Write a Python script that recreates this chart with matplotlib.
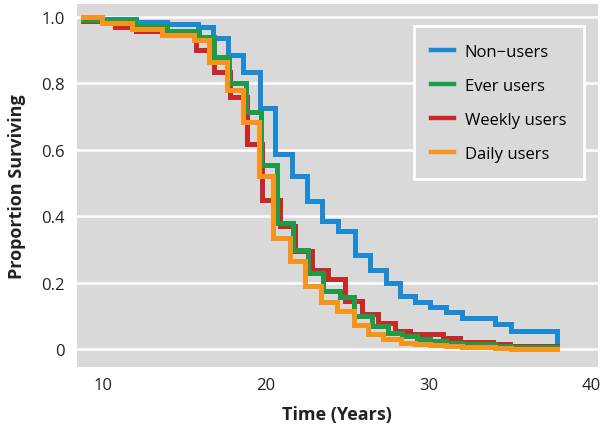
import matplotlib
matplotlib.use("Agg")
import matplotlib.pyplot as plt

plt.rcParams["font.family"] = ["Open Sans", "DejaVu Sans"]

# survival curves (time in years, proportion surviving after each step)
non_t = [8.74, 12.0, 13.9, 15.8, 16.74, 17.66, 18.6, 19.63, 20.55, 21.6, 22.52, 23.45,
         24.43, 25.48, 26.4, 27.38, 28.25, 29.17, 30.1, 31.1, 32.1, 34.1, 35.07, 37.9]
non_p = [0.995, 0.986, 0.979, 0.97, 0.937, 0.886, 0.835, 0.727, 0.588, 0.52, 0.445, 0.385,
         0.355, 0.285, 0.237, 0.2, 0.159, 0.141, 0.126, 0.111, 0.093, 0.075, 0.054, 0.0]

ever_t = [8.74, 12.0, 13.9, 15.9, 16.8, 17.75, 18.75, 19.7, 20.7, 21.66, 22.6, 23.5,
          24.55, 25.45, 26.5, 27.5, 28.4, 29.3, 30.1, 31.1, 32.1, 34.1, 35.1, 37.9]
ever_p = [0.99, 0.972, 0.958, 0.94, 0.88, 0.8, 0.715, 0.555, 0.38, 0.3, 0.23, 0.175,
          0.156, 0.1, 0.07, 0.05, 0.04, 0.032, 0.025, 0.02, 0.015, 0.01, 0.005, 0.003]

weekly_t = [8.74, 10.7, 12.0, 15.7, 16.8, 17.8, 18.85, 19.75, 20.85, 21.8, 22.85, 23.85,
            24.85, 25.9, 26.9, 27.94, 28.86, 30.9, 31.94, 33.97, 35.0, 37.9]
weekly_p = [0.988, 0.97, 0.958, 0.9, 0.835, 0.76, 0.618, 0.45, 0.37, 0.295, 0.237, 0.21,
            0.145, 0.105, 0.08, 0.055, 0.045, 0.033, 0.022, 0.015, 0.01, 0.01]

daily_t = [8.74, 9.9, 11.75, 13.6, 15.6, 16.5, 17.6, 18.6, 19.6, 20.45, 21.5, 22.4,
           23.4, 24.4, 25.4, 26.3, 27.2, 28.3, 29.2, 30.1, 31.1, 32.1, 34.1, 35.1, 37.9]
daily_p = [1.0, 0.983, 0.964, 0.946, 0.93, 0.865, 0.78, 0.685, 0.52, 0.336, 0.264, 0.19,
           0.143, 0.114, 0.072, 0.045, 0.03, 0.02, 0.016, 0.012, 0.009, 0.006, 0.003, 0.001, 0.0]

labels = ["Non\u2212users", "Ever users", "Weekly users", "Daily users"]
colors = ["#1b8ad3", "#1f9a48", "#c9282b", "#f7941d"]

x_ticks = [10, 20, 30, 40]
y_ticks = [0, 0.2, 0.4, 0.6, 0.8, 1.0]
y_tick_labels = ["0", "0.2", "0.4", "0.6", "0.8", "1.0"]

fig = plt.figure(figsize=(6.02, 4.27), dpi=100)
ax = fig.add_axes([0.128, 0.138, 0.865, 0.850])
ax.set_facecolor("#d9d9d9")

series = [(non_t, non_p), (ever_t, ever_p), (weekly_t, weekly_p), (daily_t, daily_p)]
# draw order: blue, red, green, orange on top
order = [0, 2, 1, 3]
lines = {}
for i in order:
    t, p = series[i]
    ln, = ax.step(t, p, where="post", color=colors[i], lw=3.6,
                  solid_joinstyle="miter", zorder=3 + order.index(i))
    lines[i] = ln

ax.set_xlim(8.37, 40.43)
ax.set_ylim(-0.054, 1.039)
ax.set_xticks(x_ticks)
ax.set_yticks(y_ticks)
ax.set_yticklabels(y_tick_labels)
ax.tick_params(length=0, labelsize=12, colors="#222222")
ax.tick_params(axis="y", pad=9)
ax.tick_params(axis="x", pad=7)
ax.grid(axis="y", color="white", lw=1.8)
ax.set_axisbelow(True)
for s in ax.spines.values():
    s.set_visible(False)

ax.set_xlabel("Time (Years)", fontsize=13, fontweight="bold", labelpad=9, color="#222222")
ax.set_ylabel("Proportion Surviving", fontsize=13, fontweight="bold", labelpad=11, color="#222222")

leg = ax.legend([lines[i] for i in range(4)], labels, loc="upper left",
                bbox_to_anchor=(0.647, 0.939), borderaxespad=0, fontsize=12,
                frameon=True, fancybox=False, handlelength=1.35, handletextpad=0.65,
                labelspacing=1.08, borderpad=1.05)
frame = leg.get_frame()
frame.set_facecolor("#d9d9d9")
frame.set_edgecolor("white")
frame.set_linewidth(2)
frame.set_alpha(1)
for h in leg.get_lines():
    h.set_linewidth(3.2)

fig.savefig("out.png", dpi=100)
